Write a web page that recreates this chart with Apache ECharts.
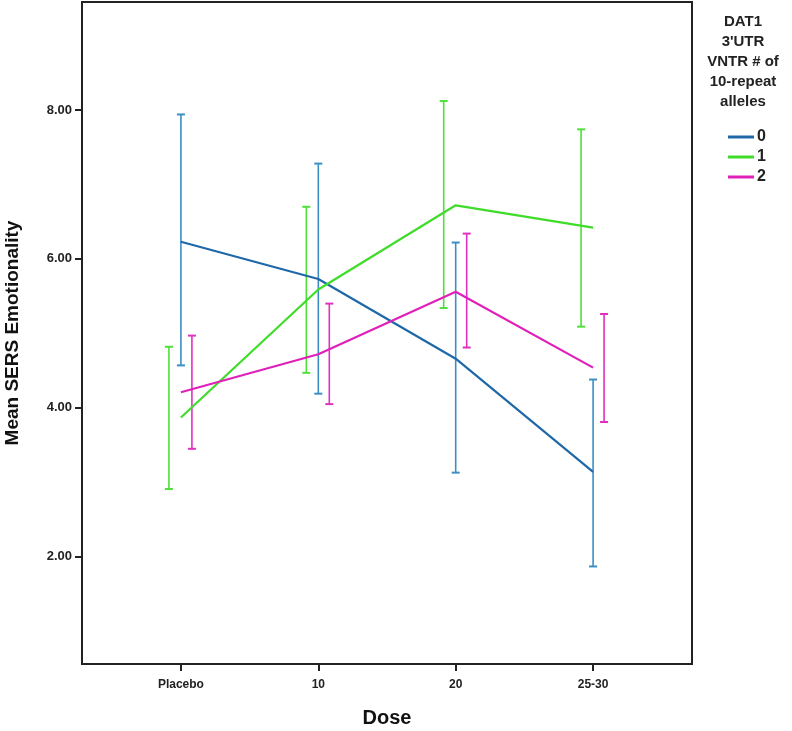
<!DOCTYPE html>
<html>
<head>
<meta charset="utf-8">
<script src="https://cdn.jsdelivr.net/npm/echarts@6/dist/echarts.min.js"></script>
<style>
html,body{margin:0;padding:0;background:#fff;}
#chart{width:792px;height:731px;}
</style>
</head>
<body>
<div id="chart"></div>
<script>
// ---- data ----
const categories = ['Placebo', '10', '20', '25-30'];
const groupNames = ['0', '1', '2'];
const mean0 = [6.23, 5.73, 4.66, 3.14];
const low0  = [4.57, 4.19, 3.13, 1.87];
const high0 = [7.94, 7.28, 6.22, 4.38];
const mean1 = [3.87, 5.59, 6.72, 6.42];
const low1  = [2.91, 4.47, 5.34, 5.09];
const high1 = [4.82, 6.70, 8.12, 7.74];
const mean2 = [4.21, 4.72, 5.56, 4.54];
const low2  = [3.45, 4.05, 4.81, 3.81];
const high2 = [4.97, 5.40, 6.34, 5.26];
const yTicks = [2, 4, 6, 8];
const legendTitle = ['DAT1', "3'UTR", 'VNTR # of', '10-repeat', 'alleles'];

const lineColors = ['#1f68a8', '#3fdc2a', '#e020b8'];
const barColors  = ['#3b8fc4', '#4fe03a', '#e030c0'];
const barOffsets = [0, -12, 11]; // pixel offset of error bars from category centre

const means = [mean0, mean1, mean2];
const lows = [low0, low1, low2];
const highs = [high0, high1, high2];

const chart = echarts.init(document.getElementById('chart'));

const series = [];
groupNames.forEach((g, gi) => {
  series.push({
    type: 'custom',
    name: g + '_err',
    z: 2,
    data: categories.map((c, i) => [i, lows[gi][i], highs[gi][i]]),
    renderItem: function (params, api) {
      const x = api.value(0);
      const lo = api.coord([x, api.value(1)]);
      const hi = api.coord([x, api.value(2)]);
      const px = lo[0] + barOffsets[gi];
      const cap = 4;
      const st = { stroke: barColors[gi], lineWidth: 1.6 };
      return {
        type: 'group',
        children: [
          { type: 'line', shape: { x1: px, y1: lo[1], x2: px, y2: hi[1] }, style: st },
          { type: 'line', shape: { x1: px - cap, y1: lo[1], x2: px + cap, y2: lo[1] }, style: { stroke: barColors[gi], lineWidth: 2 } },
          { type: 'line', shape: { x1: px - cap, y1: hi[1], x2: px + cap, y2: hi[1] }, style: { stroke: barColors[gi], lineWidth: 2 } }
        ]
      };
    }
  });
});
groupNames.forEach((g, gi) => {
  series.push({
    type: 'line',
    name: g,
    z: 3,
    data: categories.map((c, i) => [i, means[gi][i]]),
    symbol: 'none',
    color: lineColors[gi],
    lineStyle: { width: 2.2, color: lineColors[gi] }
  });
});

const titleGraphics = legendTitle.map((t, i) => ({
  type: 'text',
  x: 743, y: 22 + i * 20,
  style: {
    text: t,
    textAlign: 'center',
    textVerticalAlign: 'middle',
    fontFamily: 'Liberation Sans',
    fontWeight: 'bold',
    fontSize: 15,
    fill: '#222'
  }
}));

const option = {
  animation: false,
  backgroundColor: '#fff',
  grid: {
    left: 82, right: 100, top: 2, bottom: 67,
    containLabel: false,
    outerBoundsMode: 'none',
    show: true, borderColor: '#222', borderWidth: 2, backgroundColor: 'transparent'
  },
  xAxis: {
    type: 'value',
    min: -0.72, max: 3.72,
    name: 'Dose',
    nameLocation: 'middle',
    nameGap: 44,
    nameTextStyle: { fontFamily: 'Liberation Sans', fontWeight: 'bold', fontSize: 20, color: '#111' },
    axisLine: { show: true, onZero: false, lineStyle: { color: '#222', width: 2 } },
    axisTick: { show: true, customValues: [0, 1, 2, 3], length: 7, lineStyle: { color: '#222', width: 2 } },
    axisLabel: {
      customValues: [0, 1, 2, 3],
      formatter: v => categories[Math.round(v)],
      fontFamily: 'Liberation Sans', fontWeight: 'bold', fontSize: 12, color: '#222', margin: 15
    },
    splitLine: { show: false }
  },
  yAxis: {
    type: 'value',
    min: 0.56, max: 9.45,
    name: 'Mean SERS Emotionality',
    nameLocation: 'middle',
    nameGap: 60,
    nameRotate: 90,
    nameTextStyle: { fontFamily: 'Liberation Sans', fontWeight: 'bold', fontSize: 19, color: '#111' },
    axisLine: { show: true, onZero: false, lineStyle: { color: '#222', width: 2 } },
    axisTick: { show: true, customValues: yTicks, length: 7, lineStyle: { color: '#222', width: 2 } },
    axisLabel: {
      customValues: yTicks,
      formatter: v => v.toFixed(2),
      fontFamily: 'Liberation Sans', fontWeight: 'bold', fontSize: 13, color: '#222', margin: 10
    },
    splitLine: { show: false }
  },
  legend: {
    orient: 'vertical',
    left: 723, top: 124,
    itemWidth: 26, itemHeight: 3, itemGap: 4,
    icon: 'rect',
    data: groupNames,
    textStyle: { fontFamily: 'Liberation Sans', fontWeight: 'bold', fontSize: 16, color: '#222', padding: [0, 0, 0, -2] }
  },
  graphic: titleGraphics,
  series: series
};
chart.setOption(option);
</script>
</body>
</html>
